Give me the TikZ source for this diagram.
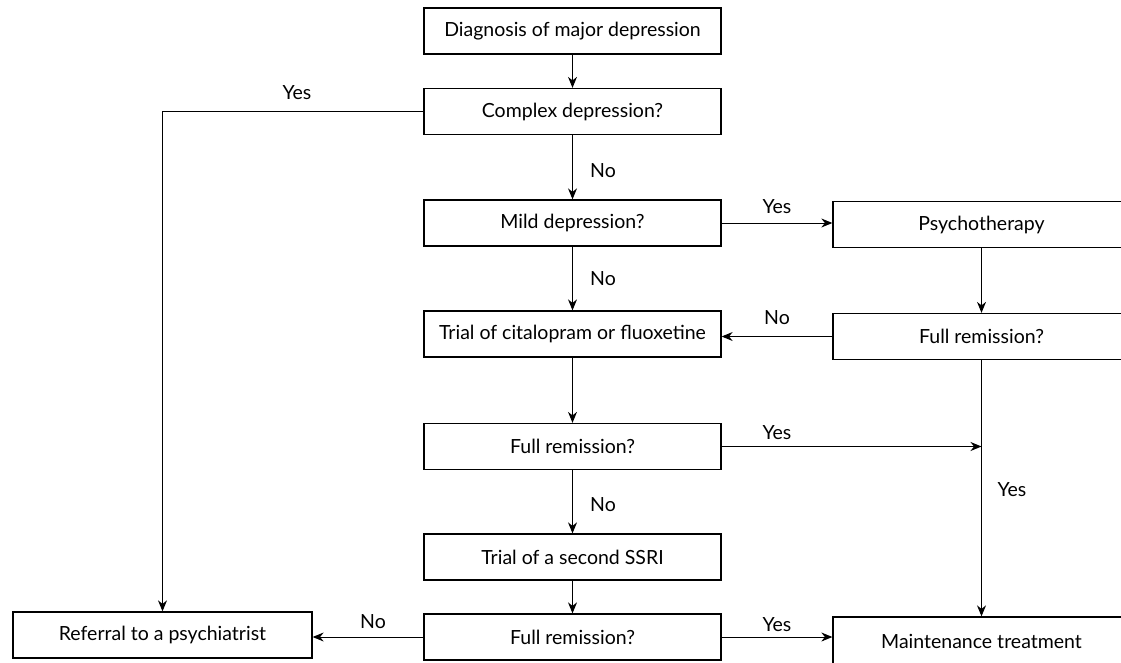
\documentclass[tikz,border=0pt]{standalone}
\usepackage{fontspec}
\setmainfont{Lato}
\usetikzlibrary{arrows.meta}
\begin{document}
\begin{tikzpicture}[x=1pt,y=-1pt,
  box/.style={draw, line width=1.3pt, minimum width=297pt, minimum height=46pt, inner sep=0pt, font=\fontsize{19.5}{22}\selectfont},
  lbl/.style={font=\fontsize{19.5}{22}\selectfont, inner sep=0pt},
  conn/.style={line width=1pt, -{Stealth[length=11pt,width=9pt]}}]
\useasboundingbox (0,0) rectangle (1121,663);
\fill[white] (0,0) rectangle (1121,663);
\clip (0,0) rectangle (1121,663);
\node[box] (diag) at (572.5,31) {Diagnosis of major depression};
\node[box] (complex) at (572.5,111.5) {Complex depression?};
\node[box] (mild) at (572.5,223) {Mild depression?};
\node[box] (psych) at (981.5,224.5) {Psychotherapy};
\node[box] (cital) at (572.5,334) {Trial of citalopram or fluoxetine};
\node[box] (frR) at (981.5,336.5) {Full remission?};
\node[box] (fr1) at (572.5,446.5) {Full remission?};
\node[box] (ssri) at (572.5,557) {Trial of a second SSRI};
\node[box] (fr2) at (572.5,637) {Full remission?};
\node[box, minimum width=299pt] (referral) at (162.5,635) {Referral to a psychiatrist};
\node[box, minimum height=48pt] (maint) at (981.5,641) {Maintenance treatment};
\draw[conn] (diag) -- (complex);
\draw[conn] (complex.west) -| (referral.north);
\draw[conn] (complex) -- (mild);
\draw[conn] (mild.east) -- (mild.east -| psych.west);
\draw[conn] (mild) -- (cital);
\draw[conn] (psych) -- (frR);
\draw[conn] (frR.west) -- (frR.west -| cital.east);
\draw[conn] (cital) -- (fr1);
\draw[conn] (fr1.east) -- (fr1.east -| frR.south);
\draw[conn] (frR) -- (maint);
\draw[conn] (fr1) -- (ssri);
\draw[conn] (ssri) -- (fr2);
\draw[conn] (fr2.west) -- (fr2.west -| referral.east);
\draw[conn] (fr2.east) -- (fr2.east -| maint.west);
\node[lbl] (l1) at (297,93) {Yes};
\node[lbl] (l2) at (603,171) {No};
\node[lbl] (l3) at (777,207) {Yes};
\node[lbl] (l4) at (603,279) {No};
\node[lbl] (l5) at (777,318) {No};
\node[lbl] (l6) at (777,433) {Yes};
\node[lbl] (l7) at (603,505) {No};
\node[lbl] (l8) at (1012,490) {Yes};
\node[lbl] (l9) at (373,622) {No};
\node[lbl] (l10) at (777,625) {Yes};
\end{tikzpicture}
\end{document}
